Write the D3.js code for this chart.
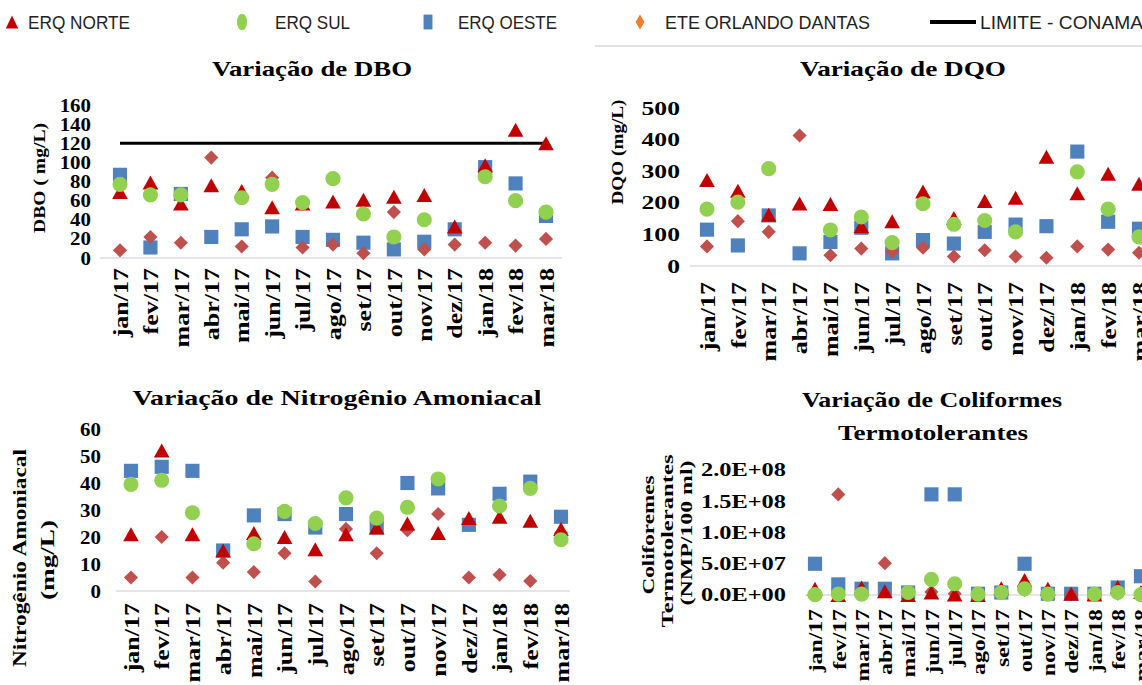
<!DOCTYPE html>
<html>
<head>
<meta charset="utf-8">
<script src="https://cdn.jsdelivr.net/npm/d3@7"></script>
<style>
  body { margin: 0; background: #fff; }
  svg { display: block; }
</style>
</head>
<body>
<div></div>
<script>
var width = 1142,
    height = 685;

var months = ["jan/17", "fev/17", "mar/17", "abr/17", "mai/17", "jun/17", "jul/17",
              "ago/17", "set/17", "out/17", "nov/17", "dez/17", "jan/18", "fev/18", "mar/18"];

var seriesNames = ["ERQ NORTE", "ERQ SUL", "ERQ OESTE", "ETE ORLANDO DANTAS", "LIMITE - CONAMA"];

// DBO (mg/L)
var dboNorte = [69, 79, 57, 76, 70, 53, 57, 59, 61, 64, 66, 33, 97, 134, 120];
var dboSul   = [77, 66, 66, null, 63, 77, 58, 83, 46, 22, 40, null, 85, 60, 48];
var dboOeste = [87, 11, 67, 22, 30, 33, 22, 19, 16, 9, 17, 30, 95, 78, 44];
var dboEte   = [8, 22, 16, 105, 12, 84, 11, 14, 5, 48, 9, 14, 16, 13, 20];
var dboLimite = 120;
var dboTicks = [0, 20, 40, 60, 80, 100, 120, 140, 160];

// DQO (mg/L)
var dqoNorte = [272, 238, 162, 198, 196, 126, 142, 236, 152, 206, 216, 346, 230, 292, 260];
var dqoSul   = [180, 202, 308, null, 114, 155, 74, 197, 132, 144, 108, null, 298, 180, 92];
var dqoOeste = [115, 65, 160, 40, 76, 121, 40, 82, 71, 108, 131, 126, 362, 140, 118];
var dqoEte   = [62, 142, 108, 413, 34, 55, 46, 58, 30, 50, 30, 26, 62, 52, 42];
var dqoTicks = [0, 100, 200, 300, 400, 500];

// Nitrogenio amoniacal (mg/L)
var nh3Norte = [21, 52, 21, 15, 21.5, 20, 15.5, 21, 23.5, 25, 21.5, 27, 27.5, 26, 23];
var nh3Sul   = [39.5, 41, 29, null, 17.5, 29.5, 25, 34.5, 27, 31, 41.5, null, 31.5, 38, 19];
var nh3Oeste = [44.5, 46, 44.5, 15, 28, 28.5, 23.5, 28.5, 23.5, 40, 38, 24.5, 36, 40.5, 27.5];
var nh3Ete   = [5, 20, 5, 10.5, 7, 14, 3.5, 23, 14, 22.5, 28.5, 5, 6, 3.7, 21.5];
var nh3Ticks = [0, 10, 20, 30, 40, 50, 60];

// Coliformes termotolerantes (NMP/100 ml)
var colNorte = [1.0e7, 0, 1.2e7, 6e6, 0, 4e6, 1e6, 0, 1.1e7, 2.4e7, 1.0e7, 2e6, 1e6, 1.3e7, 5e6];
var colSul   = [5e5, 1.5e6, 1.5e6, null, 4e6, 2.5e7, 1.8e7, 1.5e6, 4e6, 1.0e7, 1.5e6, null, 1.5e6, 4e6, 5e5];
var colOeste = [5.0e7, 1.7e7, 1.0e7, 1.0e7, 4e6, 1.61e8, 1.61e8, 2e6, 4e6, 5.0e7, 2e6, 2e6, 2e6, 1.2e7, 3.0e7];
var colEte   = [3e6, 1.61e8, 2e6, 5.1e7, 1e6, 5e6, 2e6, 1e6, 3e6, 8e6, 2e6, 1e6, 1e6, 2e6, 2e6];
var colTicks = [0, 5e7, 1e8, 1.5e8, 2e8];

var colors = { norte: "#c00000", sul: "#92d050", oeste: "#4f81bd", ete: "#c0504d", eteLegend: "#ed7d31" };

var serif = "'Liberation Serif', 'Times New Roman', serif";

// marker shapes
var triUp = { draw: function (c, s) { var r = Math.sqrt(s) / 2; c.moveTo(0, -r); c.lineTo(r * 1.12, r); c.lineTo(-r * 1.12, r); c.closePath(); } };
var diamond = { draw: function (c, s) { var r = Math.sqrt(s) / 2; c.moveTo(0, -r); c.lineTo(r, 0); c.lineTo(0, r); c.lineTo(-r, 0); c.closePath(); } };

var svg = d3.select("div").append("svg")
            .attr("width", width)
            .attr("height", height);

svg.append("rect").attr("width", width).attr("height", height).attr("fill", "#fff");

// light rule under the legend
svg.append("line").attr("x1", 595).attr("x2", width).attr("y1", 46).attr("y2", 46)
   .attr("stroke", "#e4e4e4").attr("stroke-width", 2);

function fmtE(v) {
  var p = v.toExponential(1).split("e");
  var e = p[1];
  return p[0] + "E" + e[0] + e.slice(1).padStart(2, "0");
}

function stretchText(sel, x, y, txt, size, len, rotate) {
  var t = sel.append("text")
    .attr("font-family", serif).attr("font-weight", "bold")
    .attr("font-size", size).attr("text-anchor", "middle")
    .attr("textLength", len).attr("lengthAdjust", "spacingAndGlyphs")
    .text(txt);
  if (rotate) {
    t.attr("transform", "translate(" + x + "," + y + ") rotate(-90)").attr("dy", "0.35em");
  } else {
    t.attr("x", x).attr("y", y);
  }
  return t;
}

var panels = [
  { series: [dboOeste, dboEte, dboNorte, dboSul], limit: dboLimite, max: 160, ticks: dboTicks, fmt: d3.format("d"),
    xr: [120, 546], yr: [258, 105], tickRight: 91, tickSize: 19, tickScale: 1.1, base: [100, 562],
    labTop: 268, labSize: 20, labScale: 1.3,
    titles: [{ t: "Variação de DBO", x: 312, y: 76, size: 22, len: 200 }],
    ylab: [{ t: "DBO ( mg/L)", x: 39, y: 178, size: 17, len: 110 }] },
  { series: [dqoOeste, dqoEte, dqoNorte, dqoSul], max: 500, ticks: dqoTicks, fmt: d3.format("d"),
    xr: [707, 1139], yr: [266, 108], tickRight: 680, tickSize: 19, tickScale: 1.35, base: [690, width],
    labTop: 282, labSize: 20, labScale: 1.3,
    titles: [{ t: "Variação de DQO", x: 903, y: 76, size: 22, len: 206 }],
    ylab: [{ t: "DQO (mg/L)", x: 617, y: 152, size: 16, len: 105 }] },
  { series: [nh3Oeste, nh3Ete, nh3Norte, nh3Sul], max: 60, ticks: nh3Ticks, fmt: d3.format("d"),
    xr: [131, 561], yr: [591, 429], tickRight: 101, tickSize: 19, tickScale: 1.1, base: [116, 570],
    labTop: 603, labSize: 20, labScale: 1.3,
    titles: [{ t: "Variação de Nitrogênio Amoniacal", x: 337, y: 405, size: 22, len: 409 }],
    ylab: [{ t: "Nitrogênio Amoniacal", x: 20, y: 558, size: 18, len: 218 },
           { t: "(mg/L)", x: 48, y: 560, size: 18, len: 80 }] },
  { series: [colOeste, colEte, colNorte, colSul], max: 2e8, ticks: colTicks, fmt: fmtE,
    xr: [815, 1141], yr: [595, 470], tickRight: 786, tickSize: 18, tickLen: 85, base: [805, width],
    labTop: 609, labSize: 19, labScale: 1.25,
    titles: [{ t: "Variação de Coliformes", x: 932, y: 407, size: 21, len: 260 },
             { t: "Termotolerantes", x: 933, y: 440, size: 21, len: 190 }],
    ylab: [{ t: "Coliforemes", x: 648, y: 535, size: 17, len: 119 },
           { t: "Termotolerantes", x: 667, y: 541, size: 17, len: 173 },
           { t: "(NMP/100 ml)", x: 686, y: 533, size: 17, len: 145 }] }
];

// drawing order: square, diamond, triangle, circle
var markerStyle = [
  { type: d3.symbolSquare, size: 200, fill: colors.oeste },
  { type: diamond, size: 200, fill: colors.ete },
  { type: triUp, size: 196, fill: colors.norte },
  { type: d3.symbolCircle, size: 180, fill: colors.sul }
];

panels.forEach(function (p) {
  var g = svg.append("g");
  var x = d3.scalePoint().domain(months).range(p.xr);
  var y = d3.scaleLinear().domain([0, p.max]).range(p.yr);

  // zero line
  g.append("line").attr("x1", p.base[0]).attr("x2", p.base[1])
    .attr("y1", y(0)).attr("y2", y(0))
    .attr("stroke", "#dcdcdc").attr("stroke-width", 1.5);

  // y axis labels
  var ya = g.append("g").attr("transform", "translate(" + p.tickRight + ",0)")
    .call(d3.axisLeft(y).tickValues(p.ticks).tickFormat(p.fmt).tickSize(0).tickPadding(0));
  ya.select(".domain").remove();
  var yt = ya.selectAll("text")
    .attr("font-family", serif).attr("font-weight", "bold")
    .attr("font-size", p.tickSize).attr("fill", "#000");
  if (p.tickLen) {
    yt.attr("textLength", p.tickLen).attr("lengthAdjust", "spacingAndGlyphs");
  } else {
    yt.attr("transform", "scale(" + p.tickScale + ",1)");
  }

  // x axis labels, rotated
  var xa = g.append("g").attr("transform", "translate(0," + p.labTop + ")")
    .call(d3.axisBottom(x).tickSize(0).tickPadding(0));
  xa.select(".domain").remove();
  xa.selectAll("text")
    .attr("x", 0).attr("y", 0).attr("dy", "0.36em")
    .attr("text-anchor", "end")
    .attr("font-family", serif).attr("font-weight", "bold")
    .attr("font-size", p.labSize).attr("fill", "#000")
    .attr("transform", "rotate(-90) scale(" + p.labScale + ",1)");

  // limit line
  if (p.limit) {
    g.append("line")
      .attr("x1", x(months[0])).attr("x2", x(months[months.length - 1]))
      .attr("y1", y(p.limit)).attr("y2", y(p.limit))
      .attr("stroke", "#000").attr("stroke-width", 3);
  }

  // markers
  p.series.forEach(function (vals, i) {
    var m = markerStyle[i];
    var pts = months.map(function (mo, k) { return { m: mo, v: vals[k] }; })
                    .filter(function (d) { return d.v != null; });
    g.append("g").selectAll("path").data(pts).join("path")
      .attr("d", d3.symbol().type(m.type).size(m.size))
      .attr("transform", function (d) { return "translate(" + x(d.m) + "," + y(d.v) + ")"; })
      .attr("fill", m.fill);
  });

  p.titles.forEach(function (t) { stretchText(g, t.x, t.y, t.t, t.size, t.len, false); });
  p.ylab.forEach(function (t) { stretchText(g, t.x, t.y, t.t, t.size, t.len, true); });
});

// legend
var legend = svg.append("g");
var legendItems = [
  { name: seriesNames[0], mx: 12, type: triUp, fill: colors.norte, tx: 28, len: 102 },
  { name: seriesNames[1], mx: 242, type: d3.symbolCircle, fill: colors.sul, tx: 275, len: 75 },
  { name: seriesNames[2], mx: 428, type: d3.symbolSquare, fill: colors.oeste, tx: 458, len: 99 },
  { name: seriesNames[3], mx: 640, type: diamond, fill: colors.eteLegend, tx: 665, len: 205 },
  { name: seriesNames[4], mx: null, tx: 980, len: 163 }
];
legendItems.forEach(function (d) {
  if (d.mx != null) {
    legend.append("path")
      .attr("d", d3.symbol().type(d.type).size(d.type === triUp ? 170 : 220))
      .attr("transform", "translate(" + d.mx + ",22) scale(" + (d.type === triUp ? 0.85 : 0.6) + ",1)")
      .attr("fill", d.fill);
  } else {
    legend.append("line").attr("x1", 930).attr("x2", 976).attr("y1", 22).attr("y2", 22)
      .attr("stroke", "#000").attr("stroke-width", 4);
  }
  legend.append("text")
    .attr("x", d.tx).attr("y", 29)
    .attr("font-family", "'Liberation Sans Narrow', 'Liberation Sans', Arial, sans-serif")
    .attr("font-size", 19).attr("fill", "#222")
    .attr("textLength", d.len).attr("lengthAdjust", "spacingAndGlyphs")
    .text(d.name);
});
</script>
</body>
</html>
